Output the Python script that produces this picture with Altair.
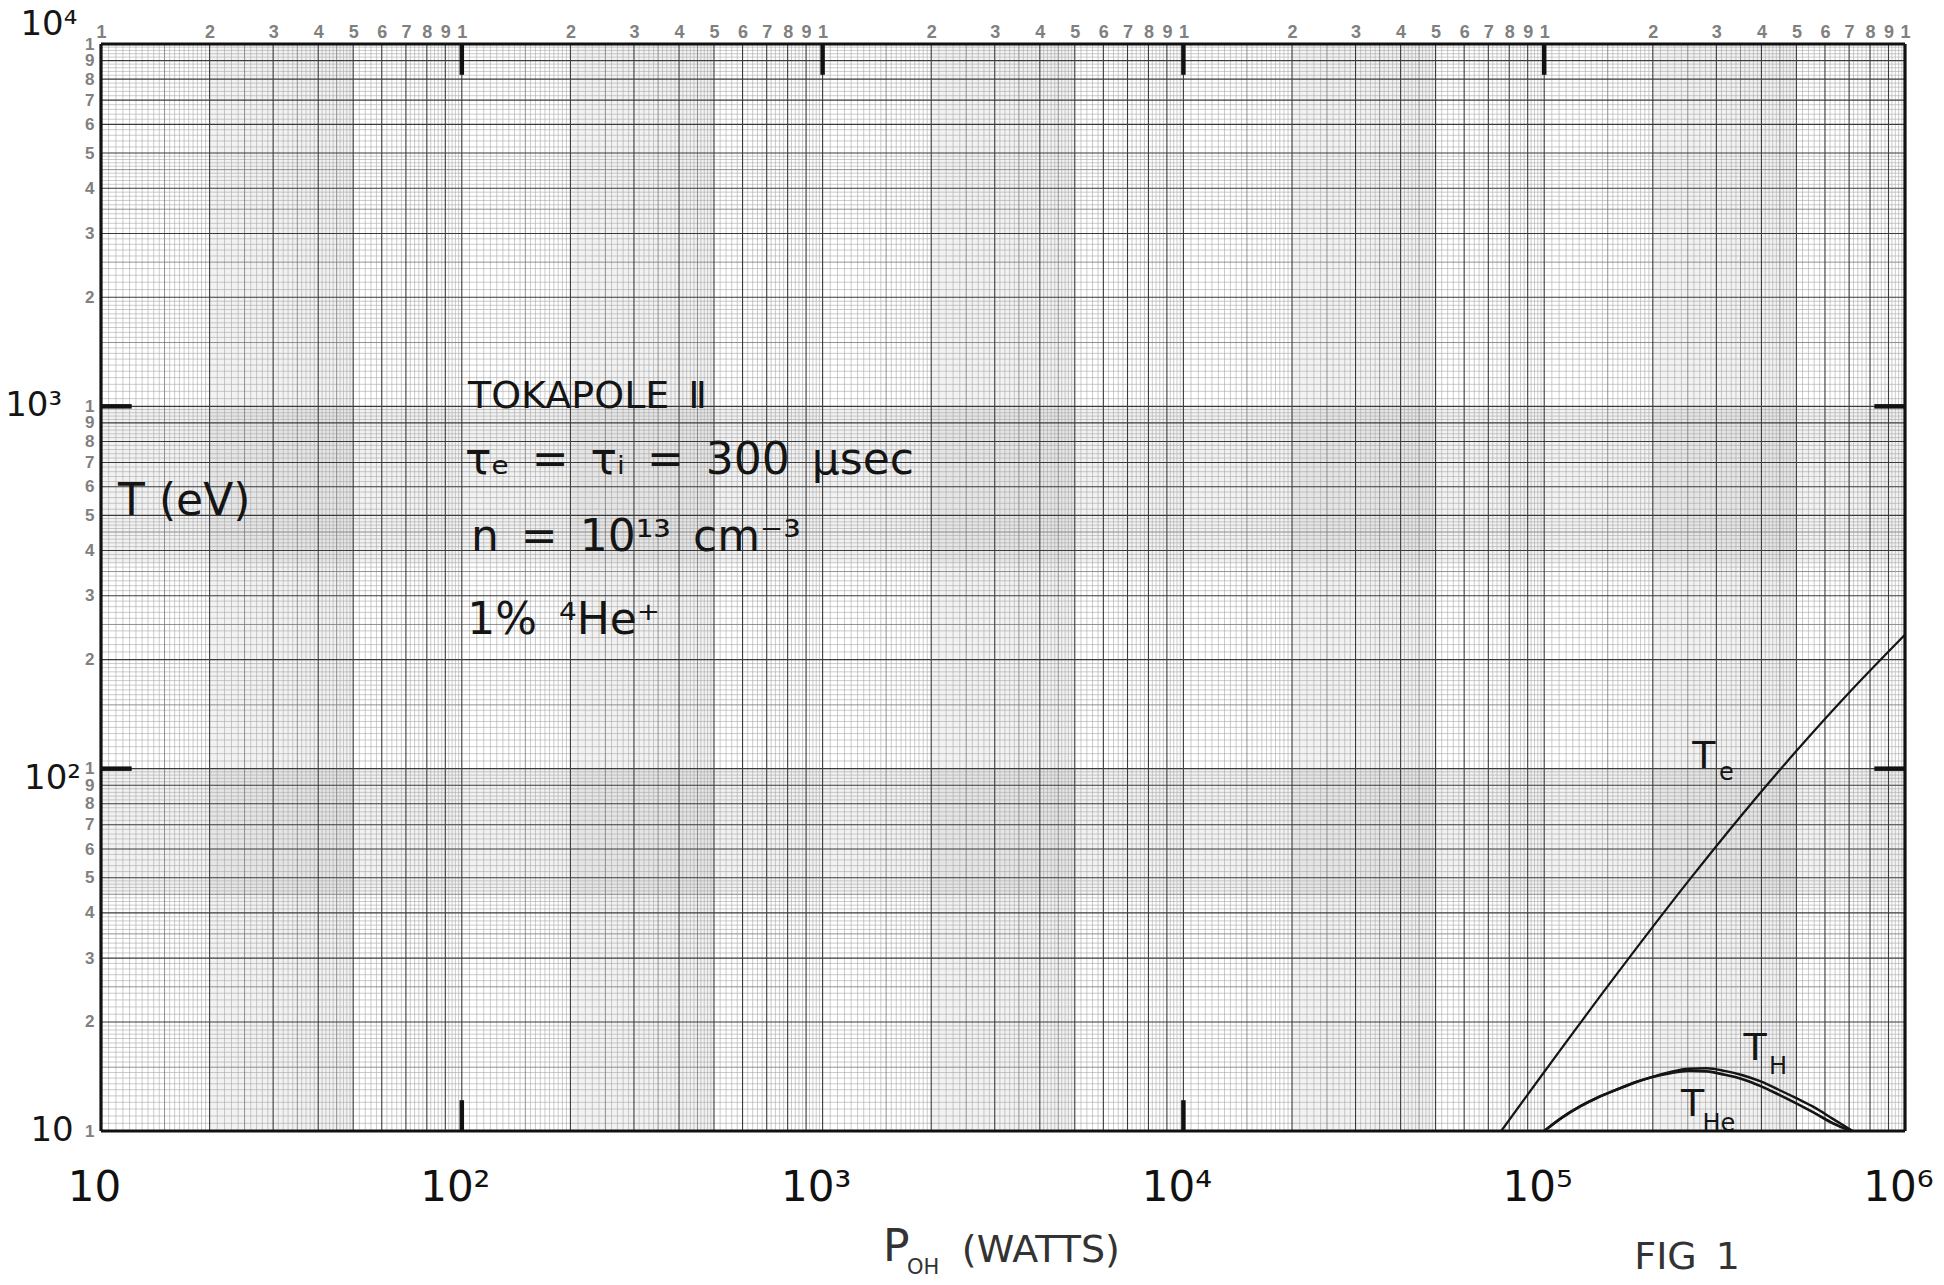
import altair as alt
import pandas as pd

# ---------------- data ----------------
te_power = [7.6e4, 1.0e5, 1.585e5, 2.512e5, 3.548e5, 5.012e5, 7.079e5, 1.0e6]
te_temp = [10.0, 14.55, 27.0, 49.0, 75.0, 112.2, 164.1, 234.4]

th_power = [1.0e5, 1.122e5, 1.259e5, 1.413e5, 1.585e5, 1.778e5, 1.995e5, 2.239e5, 2.512e5,
            2.818e5, 3.162e5, 3.548e5, 3.981e5, 4.467e5, 5.012e5, 5.623e5, 6.31e5, 7.16e5]
th_temp = [10.0, 10.9, 11.7, 12.4, 13.0, 13.6, 14.1, 14.55, 14.85,
           14.9, 14.65, 14.25, 13.7, 13.0, 12.3, 11.6, 10.8, 10.0]

the_power = [1.0e5, 1.122e5, 1.259e5, 1.413e5, 1.585e5, 1.778e5, 1.995e5, 2.239e5, 2.512e5,
             2.818e5, 3.162e5, 3.548e5, 3.981e5, 4.467e5, 5.012e5, 5.623e5, 6.31e5, 7.08e5]
the_temp = [10.0, 10.9, 11.7, 12.4, 13.0, 13.6, 14.1, 14.45, 14.65,
            14.6, 14.3, 13.9, 13.3, 12.6, 11.9, 11.2, 10.5, 10.0]

# graph-paper structure
x_decades = [10, 100, 1000, 10000, 100000]
y_decades = [10, 100, 1000]
grid_steps = [(1.0, 2.0, 0.05), (2.0, 5.0, 0.1), (5.0, 10.0, 0.2)]
digits = [1, 2, 3, 4, 5, 6, 7, 8, 9]
bottom_values = [10, 100, 1000, 10000, 100000, 1000000]

# hand-written annotations (data coordinates)
notes_text = ["TOKAPOLE\u2002Ⅱ",
              "τₑ\u2002=\u2002τᵢ\u2002=\u2002300\u2002μsec",
              "n\u2002=\u200210¹³\u2002cm⁻³",
              "1%\u2002⁴He⁺"]
notes_x = [104, 102, 106, 103.5]
notes_y = [1060, 705, 432, 256]

ylabel_text = ["T (eV)"]
ylabel_x = [11.15]
ylabel_y = [545]

curve_T_text = ["T", "T", "T"]
curve_T_x = [2.77e5, 3.84e5, 2.58e5]
curve_T_y = [107.7, 16.8, 11.8]
curve_sub_text = ["e", "H", "He"]
curve_sub_x = [3.2e5, 4.45e5, 3.05e5]
curve_sub_y = [97, 15.0, 10.45]

left_text = ["10⁴", "10³", "10²", "10"]
left_x = [8.6, 7.8, 8.8, 8.4]
left_y = [11300, 1000, 93.7, 10]

xtitle_text = ["P", "OH", "(WATTS)", "FIG\u20021"]
xtitle_x = [1600, 1900, 4027, 2.49e5]
xtitle_y = [4.75, 4.2, 4.67, 4.45]

top_tick_x = [100, 1000, 10000, 100000]
bottom_tick_x = [100, 10000]
side_tick_y = [100, 1000]

# ---------------- tables ----------------
def mantissas():
    out = []
    for a, b, s in grid_steps:
        n = int(round((b - a) / s))
        out += [round(a + i * s, 4) for i in range(n)]
    return out

def grid_table(decades):
    rows = []
    for d in decades:
        for m in mantissas():
            if abs(m - round(m)) < 1e-9:
                kind = "major"
            elif abs(m * 2 - round(m * 2)) < 1e-9:
                kind = "mid"
            else:
                kind = "minor"
            if m == 1.0 and d == decades[0]:
                continue
            rows.append({"v": m * d, "kind": kind})
    return pd.DataFrame(rows)

vgrid = grid_table(x_decades)
hgrid = grid_table(y_decades)

top_values = [d * k for k in x_decades for d in digits] + [1000000]
left_values = [d * k for k in y_decades for d in digits] + [10000]

xs = alt.Scale(type="log", domain=[10, 1000000], nice=False)
ys = alt.Scale(type="log", domain=[10, 10000], nice=False)

band_df = pd.DataFrame({"x1": [2 * d for d in x_decades], "x2": [5 * d for d in x_decades]})
hband_df = pd.DataFrame({"y1": [370, 45], "y2": [1000, 100]})

def vrule(df, color, width, axis=None):
    return alt.Chart(df).mark_rule(color=color, strokeWidth=width).encode(
        x=alt.X("v:Q", scale=xs, axis=axis))

def hrule(df, color, width, axis=None):
    return alt.Chart(df).mark_rule(color=color, strokeWidth=width).encode(
        y=alt.Y("v:Q", scale=ys, axis=axis))

digit_expr = "'' + round(datum.value / pow(10, floor(log(datum.value) / LN10 + 1e-6)))"
top_axis = alt.Axis(orient="top", values=top_values, labelExpr=digit_expr, ticks=False,
                    domain=False, grid=False, labelColor="#808080", labelFontSize=18,
                    labelFont="Liberation Sans", labelFontWeight="bold", labelPadding=3,
                    labelOverlap=False, labelFlush=False, labelBound=False, title=None)
left_axis = alt.Axis(orient="left", values=left_values, labelExpr=digit_expr, ticks=False,
                     domain=False, grid=False, labelColor="#808080", labelFontSize=17,
                     labelFont="Liberation Sans", labelFontWeight="bold", labelPadding=7,
                     labelOverlap=False, labelFlush=False, labelBound=False, title=None)
bottom_axis = alt.Axis(orient="bottom", values=bottom_values,
                       labelExpr="['10','10²','10³','10⁴','10⁵','10⁶'][round(log(datum.value) / LN10) - 1]",
                       ticks=False, domain=False, grid=False, labelColor="#111",
                       labelFontSize=42, labelFont="DejaVu Sans", labelPadding=36,
                       labelOffset=-7,
                       labelOverlap=False, labelFlush=False, labelBound=False, title=None)

vbands = alt.Chart(band_df).mark_rect(color="#000", opacity=0.05).encode(
    x=alt.X("x1:Q", scale=xs, axis=None), x2="x2:Q",
    y=alt.YDatum(10, type="quantitative", scale=ys, axis=None), y2=alt.Y2Datum(10000))
hbands = alt.Chart(hband_df).mark_rect(color="#000", opacity=0.05).encode(
    y=alt.Y("y1:Q", scale=ys, axis=None), y2="y2:Q",
    x=alt.XDatum(10, type="quantitative", scale=xs, axis=None), x2=alt.X2Datum(1000000))

layers = [
    vbands, hbands,
    vrule(vgrid[vgrid.kind == "minor"], "#a8a8a8", 0.6),
    hrule(hgrid[hgrid.kind == "minor"], "#a8a8a8", 0.6),
    vrule(vgrid[vgrid.kind == "mid"], "#777", 0.8),
    hrule(hgrid[hgrid.kind == "mid"], "#777", 0.8),
    vrule(vgrid[vgrid.kind == "major"], "#3a3a3a", 1.1, top_axis),
    hrule(hgrid[hgrid.kind == "major"], "#3a3a3a", 1.1, left_axis),
]

te_df = pd.DataFrame({"p": te_power, "t": te_temp})
th_df = pd.DataFrame({"p": th_power, "t": th_temp})
the_df = pd.DataFrame({"p": the_power, "t": the_temp})

def curve(df, width):
    return alt.Chart(df).mark_line(color="#151515", strokeWidth=width, interpolate="monotone").encode(
        x=alt.X("p:Q", scale=xs, axis=None), y=alt.Y("t:Q", scale=ys, axis=None), order="p:Q")

layers += [curve(te_df, 2.2), curve(th_df, 2.4), curve(the_df, 2.7)]

def text_layer(t, x, y, size, align="left", color="#151515"):
    df = pd.DataFrame({"t": t, "x": x, "y": y})
    return alt.Chart(df).mark_text(fontSize=size, font="DejaVu Sans", color=color, align=align,
                                   baseline="middle").encode(
        x=alt.X("x:Q", scale=xs, axis=None), y=alt.Y("y:Q", scale=ys, axis=None), text="t:N")

layers += [
    text_layer(notes_text[:1], notes_x[:1], notes_y[:1], 38),
    text_layer(notes_text[1:], notes_x[1:], notes_y[1:], 44),
    text_layer(ylabel_text, ylabel_x, ylabel_y, 44),
    text_layer(curve_T_text, curve_T_x, curve_T_y, 38, align="center"),
    text_layer(curve_sub_text, curve_sub_x, curve_sub_y, 24, align="center"),
    text_layer(left_text, left_x, left_y, 34, align="right"),
    text_layer(xtitle_text[:1], xtitle_x[:1], xtitle_y[:1], 44, align="center", color="#333"),
    text_layer(xtitle_text[1:2], xtitle_x[1:2], xtitle_y[1:2], 21, align="center", color="#333"),
    text_layer(xtitle_text[2:], xtitle_x[2:], xtitle_y[2:], 38, align="center", color="#333"),
]

# border of the printed paper
border_v = pd.DataFrame({"v": [10, 1000000]})
border_h = pd.DataFrame({"v": [10, 10000]})
layers += [
    vrule(border_v, "#111", 3.2, bottom_axis),
    hrule(border_h, "#111", 3.2),
]

# pen marks at the decade lines
tick_len = 10 ** 0.085
top_ticks = pd.DataFrame({"x": top_tick_x, "y": [10000] * 4, "y2": [10000 / tick_len] * 4})
bot_ticks = pd.DataFrame({"x": bottom_tick_x, "y": [10] * 2, "y2": [10 * tick_len] * 2})
left_ticks = pd.DataFrame({"y": side_tick_y, "x": [10] * 2, "x2": [10 * tick_len] * 2})
right_ticks = pd.DataFrame({"y": side_tick_y, "x": [1000000] * 2, "x2": [1000000 / tick_len] * 2})

def vtick(df):
    return alt.Chart(df).mark_rule(color="#111", strokeWidth=4.5).encode(
        x=alt.X("x:Q", scale=xs, axis=None), y=alt.Y("y:Q", scale=ys, axis=None), y2="y2:Q")

def htick(df):
    return alt.Chart(df).mark_rule(color="#111", strokeWidth=4.5).encode(
        y=alt.Y("y:Q", scale=ys, axis=None), x=alt.X("x:Q", scale=xs, axis=None), x2="x2:Q")

layers += [vtick(top_ticks), vtick(bot_ticks), htick(left_ticks), htick(right_ticks)]

chart = alt.layer(*layers).resolve_axis(x="independent", y="independent").properties(
    width=1804, height=1087,
    autosize=alt.AutoSizeParams(type="none"),
    padding={"left": 101, "top": 44, "right": 39, "bottom": 154},
    background="white",
).configure_view(stroke=None)

chart.save("out.html", embed_options={"renderer": "svg", "actions": False})
